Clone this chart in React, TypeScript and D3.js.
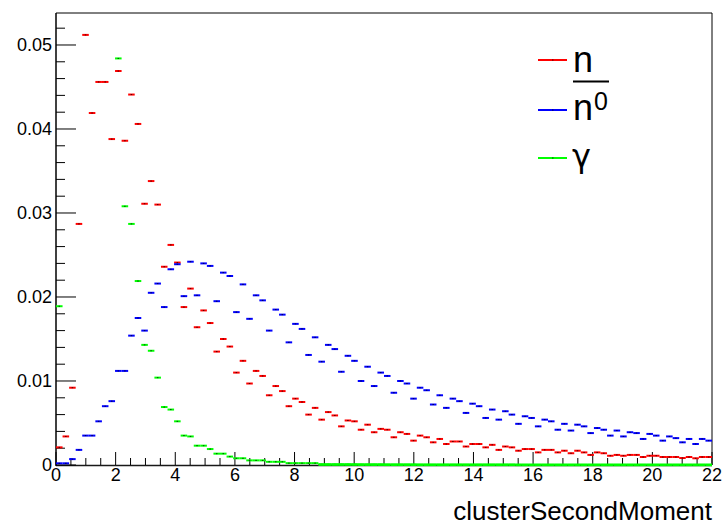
import React from 'react';
import * as d3 from 'd3';

const X_MIN = 0;
const X_MAX = 22;
const N_BINS = 100;
const Y_MAX = 0.05376;

const xTickLabels = [0, 2, 4, 6, 8, 10, 12, 14, 16, 18, 20, 22];
const yTickLabels = [0, 0.01, 0.02, 0.03, 0.04, 0.05];

const seriesNames = ['n', 'nbar0', 'gamma'];
const seriesColors = ['#ff0000', '#0000ff', '#00ff00'];

// n (red)
const neutron = [
  0.0021, 0.0034, 0.0092, 0.0287, 0.0512, 0.0419, 0.0456, 0.0456, 0.0388, 0.0469,
  0.0386, 0.0441, 0.0406, 0.0311, 0.0338, 0.0310, 0.0236, 0.0262, 0.0241, 0.0188,
  0.0210, 0.0164, 0.0184, 0.0169, 0.0135, 0.0150, 0.0141, 0.0110, 0.0124, 0.0097,
  0.0112, 0.0106, 0.0083, 0.0094, 0.0088, 0.0070, 0.0079, 0.0075, 0.0060, 0.0068,
  0.0054, 0.0063, 0.0059, 0.0046, 0.0053, 0.0052, 0.0042, 0.0048, 0.0039, 0.0043,
  0.0042, 0.0033, 0.0039, 0.0037, 0.0029, 0.0035, 0.0033, 0.0027, 0.0031, 0.0025,
  0.0028, 0.0028, 0.0022, 0.0025, 0.0025, 0.0021, 0.0024, 0.0018, 0.0022, 0.0021,
  0.0017, 0.0019, 0.0019, 0.0015, 0.0018, 0.0018, 0.0015, 0.0017, 0.0014, 0.0017,
  0.0015, 0.0012, 0.0015, 0.0014, 0.0011, 0.0012, 0.0011, 0.0012, 0.0012, 0.00095,
  0.0011, 0.0011, 0.00095, 0.00095, 0.00095, 0.00083, 0.00095, 0.0008, 0.00095, 0.00095,
];

// anti-neutron (blue)
const antineutron = [
  0.0002, 0.0002, 0.0007, 0.0018, 0.0035, 0.0035, 0.0052, 0.0070, 0.0076, 0.0112,
  0.0112, 0.0154, 0.0175, 0.0160, 0.0205, 0.0216, 0.0188, 0.0233, 0.0239, 0.0201,
  0.0242, 0.0202, 0.0240, 0.0237, 0.0195, 0.0229, 0.0225, 0.0182, 0.0215, 0.0174,
  0.0202, 0.0196, 0.0160, 0.0185, 0.0179, 0.0146, 0.0168, 0.0162, 0.0131, 0.0152,
  0.0123, 0.0143, 0.0138, 0.0111, 0.0130, 0.0124, 0.0100, 0.0117, 0.0094, 0.0110,
  0.0106, 0.0086, 0.0100, 0.0097, 0.0079, 0.0092, 0.0089, 0.0072, 0.0083, 0.0068,
  0.0079, 0.0076, 0.0062, 0.0073, 0.0070, 0.0056, 0.0066, 0.0054, 0.0064, 0.0060,
  0.0049, 0.0058, 0.0056, 0.0046, 0.0054, 0.0052, 0.0042, 0.0049, 0.0041, 0.0048,
  0.0046, 0.0038, 0.0044, 0.0042, 0.0035, 0.0041, 0.0034, 0.0039, 0.0038, 0.0031,
  0.0037, 0.0035, 0.0029, 0.0034, 0.0032, 0.0027, 0.0031, 0.0025, 0.0031, 0.0029,
];

// gamma (green); null = empty bin
const photon = [
  0.0189, null, null, null, null, null, null, null, null, 0.0484,
  0.0308, 0.0287, 0.0219, 0.0143, 0.0136, 0.0104, 0.0069, 0.0066, 0.0052, 0.0035,
  0.0034, 0.0023, 0.0023, 0.0019, 0.00135, 0.00135, 0.0010, 0.0008, 0.0008, 0.00055,
  0.00055, 0.00055, 0.00038, 0.00038, 0.00038, 0.00022, 0.00022, 0.00022, 0.00022, 0.00022,
  0.00008, 0.00008, 0.00008, 0.00008, 0.00008, 0.00008, 0.00007, 0.00007, 0.00007, 0.00007,
  0.00006, 0.00006, 0.00006, 0.00006, 0.00006, 0.00005, 0.00005, 0.00005, 0.00005, 0.00005,
  0.00005, 0.00005, 0.00005, 0.00005, 0.00005, 0.00005, 0.00005, 0.00005, 0.00005, 0.00005,
  0.00004, 0.00004, 0.00004, 0.00004, 0.00004, 0.00004, 0.00004, 0.00004, 0.00004, 0.00004,
  0.00004, 0.00004, 0.00004, 0.00004, 0.00004, 0.00004, 0.00004, 0.00004, 0.00004, 0.00004,
  0.00004, 0.00004, 0.00004, 0.00004, 0.00004, 0.00004, 0.00004, 0.00004, 0.00004, 0.00004,
];

const allSeries = [neutron, antineutron, photon];

const W = 725;
const H = 528;
const LEFT = 56;
const RIGHT = 712;
const TOP = 13.4;
const BOTTOM = 465;
const FONT = '"Liberation Sans", Arial, Helvetica, sans-serif';

export default function App() {
  const x = d3.scaleLinear().domain([X_MIN, X_MAX]).range([LEFT, RIGHT]);
  const y = d3.scaleLinear().domain([0, Y_MAX]).range([BOTTOM, TOP]);
  const binW = (X_MAX - X_MIN) / N_BINS;

  const xMinor = d3.range(0, 22.0001, 0.5);
  const yMinor = d3.range(0, Y_MAX, 0.002);

  const fmtY = (v: number) => (v === 0 ? '0' : d3.format('.2f')(v));

  return (
    <div style={{ position: 'absolute', left: 0, top: 0 }}>
      <svg width={W} height={H} style={{ display: 'block', background: '#fff' }}>
        <rect x={0} y={0} width={W} height={H} fill="#fff" />
        {/* frame */}
        <line x1={LEFT} x2={RIGHT} y1={13} y2={13} stroke="#000" strokeWidth={1} />
        <line x1={RIGHT} x2={RIGHT} y1={13} y2={BOTTOM} stroke="#000" strokeWidth={1} />
        {/* y axis */}
        <line x1={LEFT} x2={LEFT} y1={13} y2={BOTTOM + 1} stroke="#000" strokeWidth={1.5} />
        {yMinor.map((v, i) => (
          <line key={'ym' + i} x1={LEFT} x2={LEFT + (i % 5 === 0 ? 20 : 9)} y1={y(v)} y2={y(v)} stroke="#000" strokeWidth={1} />
        ))}
        {yTickLabels.map((v) => (
          <text key={'yl' + v} x={52} y={y(v)} dy="0.36em" textAnchor="end" fontFamily={FONT} fontSize={18} fill="#000">
            {fmtY(v)}
          </text>
        ))}
        {/* x axis ticks */}
        {xMinor.map((v, i) => (
          <line key={'xm' + i} x1={x(v)} x2={x(v)} y1={BOTTOM} y2={BOTTOM - (i % 4 === 0 ? 13 : 7)} stroke="#000" strokeWidth={1} />
        ))}
        {xTickLabels.map((v) => (
          <text key={'xl' + v} x={x(v)} y={481} textAnchor="middle" fontFamily={FONT} fontSize={18} fill="#000">
            {v}
          </text>
        ))}
        <text x={RIGHT} y={519.5} textAnchor="end" fontFamily={FONT} fontSize={26} fill="#000">
          clusterSecondMoment
        </text>
        {/* data */}
        {allSeries.map((s, si) => (
          <g key={seriesNames[si]}>
            {s.map((v, i) =>
              v === null ? null : (
                <g key={i}>
                  <line
                    x1={x(X_MIN + i * binW)}
                    x2={x(X_MIN + (i + 1) * binW)}
                    y1={y(v)}
                    y2={y(v)}
                    stroke={seriesColors[si]}
                    strokeWidth={2}
                  />
                  <rect
                    x={x(X_MIN + (i + 0.5) * binW) - 0.75}
                    y={y(v) - 0.5}
                    width={1.5}
                    height={1}
                    fill="#000"
                    opacity={0.7}
                  />
                </g>
              )
            )}
          </g>
        ))}
        {/* bottom axis line */}
        <line x1={LEFT} x2={RIGHT} y1={BOTTOM + 0.5} y2={BOTTOM + 0.5} stroke="#000" strokeWidth={1.5} opacity={0.9} />
        {/* redraw near-zero green on top of axis */}
        {photon.map((v, i) =>
          v !== null && v < 0.0001 ? (
            <line
              key={'gz' + i}
              x1={x(X_MIN + i * binW)}
              x2={x(X_MIN + (i + 1) * binW)}
              y1={y(v) + 0.3}
              y2={y(v) + 0.3}
              stroke={seriesColors[2]}
              strokeWidth={2.5}
            />
          ) : null
        )}
        {/* legend */}
        {[60, 110, 158].map((ly, i) => (
          <g key={'lg' + i}>
            <line x1={538} x2={567} y1={ly} y2={ly} stroke={seriesColors[i]} strokeWidth={2} />
            <rect x={552} y={ly - 0.5} width={1.5} height={1} fill="#000" opacity={0.7} />
          </g>
        ))}
        <text x={573} y={72} fontFamily={FONT} fontSize={36} fill="#000">n</text>
        <line x1={573} x2={609} y1={81.5} y2={81.5} stroke="#000" strokeWidth={2} />
        <text x={573} y={120} fontFamily={FONT} fontSize={36} fill="#000">n</text>
        <text x={594} y={110} fontFamily={FONT} fontSize={25} fill="#000">0</text>
        <text x={572} y={167} fontFamily='"DejaVu Sans", sans-serif' fontSize={32} fill="#000">γ</text>
      </svg>
    </div>
  );
}
